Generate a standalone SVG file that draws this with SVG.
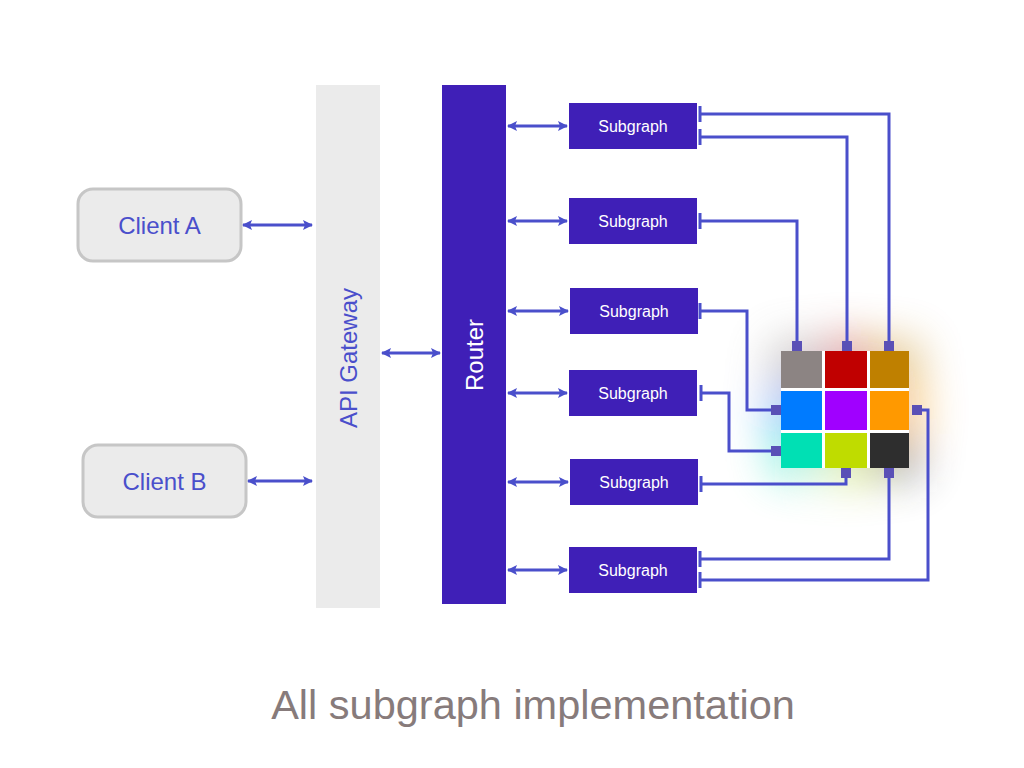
<svg xmlns="http://www.w3.org/2000/svg" width="1024" height="768" viewBox="0 0 1024 768">
<style>
.client{fill:#ebebeb;stroke:#c6c6c6;stroke-width:3}
.clabel{font-family:"Liberation Sans",Arial,sans-serif;font-size:24px;fill:#4a4fcb;text-anchor:middle;dominant-baseline:central}
.bar{fill:#3f1fb7}
.sub{fill:#3f1fb7}
.slabel{font-family:"Liberation Sans",Arial,sans-serif;font-size:16px;fill:#ffffff;text-anchor:middle;dominant-baseline:central}
.conn{fill:none;stroke:#4a4fcb;stroke-width:3}
.arrow{marker-start:url(#ah);marker-end:url(#ah)}
.link{stroke-linejoin:miter;marker-start:url(#port);marker-end:url(#tee)}
.title{font-family:"Liberation Sans",Arial,sans-serif;font-size:41.5px;fill:#877b7b;text-anchor:middle}
</style>
<defs>
<marker id="ah" viewBox="0 0 10 10" refX="9" refY="5" markerWidth="10" markerHeight="10" markerUnits="userSpaceOnUse" orient="auto-start-reverse">
<path d="M0,0 L10,5 L0,10 L2,5 Z" fill="#4a4fcb"/>
</marker>
<marker id="tee" viewBox="0 0 4 16" refX="2" refY="8" markerWidth="4" markerHeight="16" markerUnits="userSpaceOnUse" orient="auto">
<rect x="0.5" y="0" width="3" height="16" fill="#4a4fcb"/>
</marker>
<marker id="port" viewBox="0 0 10 10" refX="0" refY="5" markerWidth="10" markerHeight="10" markerUnits="userSpaceOnUse" orient="auto">
<rect x="0" y="0" width="10" height="10" fill="#5a50b6"/>
</marker>
<filter id="glow" x="-80%" y="-80%" width="260%" height="260%">
<feGaussianBlur stdDeviation="22"/>
</filter>
</defs>
<rect width="1024" height="768" fill="#ffffff"/>

<g id="client-a">
<rect class="client" x="78" y="189" width="163" height="72" rx="15"/>
<text class="clabel" x="159.5" y="225">Client A</text>
</g>
<g id="client-b">
<rect class="client" x="83" y="445" width="163" height="72" rx="15"/>
<text class="clabel" x="164.5" y="481">Client B</text>
</g>
<g id="api-gateway">
<rect x="316" y="85" width="64" height="523" fill="#ebebeb"/>
<text class="clabel" transform="translate(348,358) rotate(-90)">API Gateway</text>
</g>
<g id="router">
<rect class="bar" x="442" y="85" width="64" height="519"/>
<text class="slabel" style="font-size:24px" transform="translate(474,355) rotate(-90)">Router</text>
</g>

<g id="subgraph-1"><rect class="sub" x="569" y="103" width="128" height="46"/><text class="slabel" x="633" y="126">Subgraph</text></g>
<g id="subgraph-2"><rect class="sub" x="569" y="198" width="128" height="46"/><text class="slabel" x="633" y="221">Subgraph</text></g>
<g id="subgraph-3"><rect class="sub" x="570" y="288" width="128" height="46"/><text class="slabel" x="634" y="311">Subgraph</text></g>
<g id="subgraph-4"><rect class="sub" x="569" y="370" width="128" height="46"/><text class="slabel" x="633" y="393">Subgraph</text></g>
<g id="subgraph-5"><rect class="sub" x="570" y="459" width="128" height="46"/><text class="slabel" x="634" y="482">Subgraph</text></g>
<g id="subgraph-6"><rect class="sub" x="569" y="547" width="128" height="46"/><text class="slabel" x="633" y="570">Subgraph</text></g>

<g id="implementation-grid">
<g filter="url(#glow)" opacity="0.45">
<rect x="771" y="341" width="51" height="47" fill="#8c8483"/>
<rect x="825" y="336" width="42" height="52" fill="#c00000"/>
<rect x="870" y="341" width="50" height="47" fill="#bf8000"/>
<rect x="766" y="391" width="56" height="39" fill="#007bff"/>
<rect x="825" y="391" width="42" height="39" fill="#a000ff"/>
<rect x="870" y="391" width="55" height="39" fill="#ff9900"/>
<rect x="771" y="433" width="51" height="45" fill="#00e0b4"/>
<rect x="825" y="433" width="42" height="50" fill="#bfdc00"/>
<rect x="870" y="433" width="50" height="45" fill="#2e2e2e"/>
</g>
<rect x="781" y="351" width="128" height="117" fill="#ffffff"/>
<rect x="781" y="351" width="41" height="37" fill="#8c8483"/>
<rect x="825" y="351" width="42" height="37" fill="#c00000"/>
<rect x="870" y="351" width="39" height="37" fill="#bf8000"/>
<rect x="781" y="391" width="41" height="39" fill="#007bff"/>
<rect x="825" y="391" width="42" height="39" fill="#a000ff"/>
<rect x="870" y="391" width="39" height="39" fill="#ff9900"/>
<rect x="781" y="433" width="41" height="35" fill="#00e0b4"/>
<rect x="825" y="433" width="42" height="35" fill="#bfdc00"/>
<rect x="870" y="433" width="39" height="35" fill="#2e2e2e"/>
</g>

<g id="connectors">
<path class="conn arrow" d="M243,225 H312"/>
<path class="conn arrow" d="M248,481 H312"/>
<path class="conn arrow" d="M382,353 H440"/>
<path class="conn arrow" d="M508,126 H567"/>
<path class="conn arrow" d="M508,221 H567"/>
<path class="conn arrow" d="M508,311 H568"/>
<path class="conn arrow" d="M508,393 H567"/>
<path class="conn arrow" d="M508,482 H568"/>
<path class="conn arrow" d="M508,570 H567"/>

<path class="conn link" d="M889,351 V114 H700"/>
<path class="conn link" d="M847,351 V137 H700"/>
<path class="conn link" d="M797,351 V221 H700"/>
<path class="conn link" d="M781,410 H747 V311 H700"/>
<path class="conn link" d="M781,451 H729 V393 H701"/>
<path class="conn link" d="M846,468 V484 H701"/>
<path class="conn link" d="M889,468 V559 H700"/>
<path class="conn link" d="M912,410 H928 V580 H700"/>
</g>

<text class="title" x="533" y="719">All subgraph implementation</text>
</svg>
